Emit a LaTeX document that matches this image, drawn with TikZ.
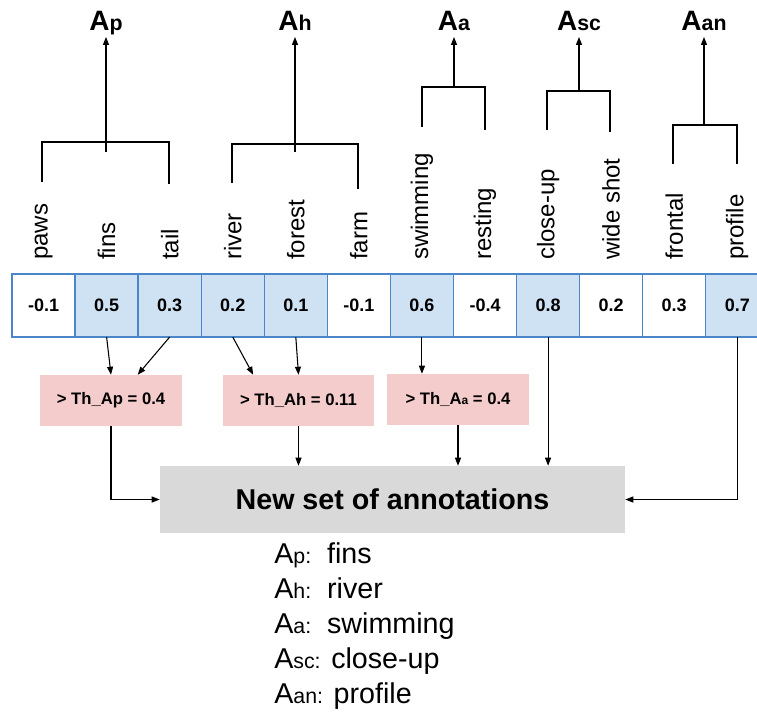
\documentclass[tikz,border=0pt]{standalone}
\usepackage{fontspec}
\setmainfont{Liberation Sans}
\usetikzlibrary{positioning,arrows.meta}
\definecolor{cellline}{HTML}{4A86C8}
\definecolor{cellblue}{HTML}{CFE2F3}
\definecolor{thpink}{HTML}{F4CCCC}
\definecolor{setgray}{HTML}{D9D9D9}
\newcommand{\subtxt}[1]{{\fontsize{16}{18}\selectfont #1}}
\tikzset{
	cell/.style={draw=cellline, line width=1pt, minimum width=47.3pt, minimum height=47.3pt, inner sep=0pt, outer sep=0pt, font=\bfseries\fontsize{13.5}{15}\selectfont},
	hit/.style={cell, fill=cellblue},
	attr/.style={rotate=90, anchor=west, inner sep=0pt, font=\fontsize{18}{20}\selectfont},
	head/.style={anchor=base, inner sep=1pt, text depth=4pt, font=\bfseries\fontsize{21}{24}\selectfont},
	thr/.style={fill=thpink, minimum height=38.25pt, font=\bfseries\fontsize{12.5}{14}\selectfont},
	link/.style={-{Triangle[length=6pt,width=4.5pt]}, line width=0.8pt},
	brk/.style={line width=0.8pt},
	pick/.style={anchor=base west, inner sep=0pt, font=\fontsize{21.5}{24}\selectfont}
}
\begin{document}
\begin{tikzpicture}[x=0.75pt, y=-0.75pt]
	\useasboundingbox (0,0) rectangle (757,711);
	\clip (0,0) rectangle (757,711);
	% score row
	\node[cell] (c1) at (43.55,305.5) {-0.1};
	\node[hit, right=0pt of c1] (c2) {0.5};
	\node[hit, right=0pt of c2] (c3) {0.3};
	\node[hit, right=0pt of c3] (c4) {0.2};
	\node[hit, right=0pt of c4] (c5) {0.1};
	\node[cell, right=0pt of c5] (c6) {-0.1};
	\node[hit, right=0pt of c6] (c7) {0.6};
	\node[cell, right=0pt of c7] (c8) {-0.4};
	\node[hit, right=0pt of c8] (c9) {0.8};
	\node[cell, right=0pt of c9] (c10) {0.2};
	\node[cell, right=0pt of c10] (c11) {0.3};
	\node[hit, right=0pt of c11] (c12) {0.7};
	% attribute words
	\node[attr] (lpaws) at ([yshift=10.5pt]c1.north) {paws};
	\node[attr] (lfins) at ([yshift=10.5pt]c2.north) {fins};
	\node[attr] (ltail) at ([yshift=10.5pt]c3.north) {tail};
	\node[attr] (lriver) at ([yshift=10.5pt]c4.north) {river};
	\node[attr] (lforest) at ([yshift=10.5pt]c5.north) {forest};
	\node[attr] (lfarm) at ([yshift=10.5pt]c6.north) {farm};
	\node[attr] (lswim) at ([yshift=10.5pt]c7.north) {swimming};
	\node[attr] (lrest) at ([yshift=10.5pt]c8.north) {resting};
	\node[attr] (lclose) at ([yshift=10.5pt]c9.north) {close-up};
	\node[attr] (lwide) at ([yshift=10.5pt]c10.north) {wide shot};
	\node[attr] (lfront) at ([yshift=10.5pt]c11.north) {frontal};
	\node[attr] (lprof) at ([yshift=10.5pt]c12.north) {profile};
	% group heads
	\node[head] (Ap) at (106,30) {A\subtxt{p}};
	\node[head] (Ah) at (295,30) {A\subtxt{h}};
	\node[head] (Aa) at (454,30) {A\subtxt{a}};
	\node[head] (Asc) at (579,30) {A\subtxt{sc}};
	\node[head] (Aan) at (704,30) {A\subtxt{an}};
	% brackets
	\draw[brk] (42,182) -- (42,142) -- (169,142) -- (169,184);
	\draw[brk] (232,183) -- (232,144) -- (358,144) -- (358,189);
	\draw[brk] (422,127) -- (422,87) -- (485,87) -- (485,130);
	\draw[brk] (547,130) -- (547,91) -- (610,91) -- (610,132);
	\draw[brk] (673,164) -- (673,125) -- (737,125) -- (737,164);
	\coordinate (bp) at (106,152);
	\coordinate (bh) at (295,152);
	\coordinate (ba) at (454,88);
	\coordinate (bsc) at (579,91);
	\coordinate (ban) at (704,125);
	\draw[link] (bp) -- (Ap);
	\draw[link] (bh) -- (Ah);
	\draw[link] (ba) -- (Aa);
	\draw[link] (bsc) -- (Asc);
	\draw[link] (ban) -- (Aan);
	% thresholds
	\node[thr, minimum width=106.5pt] (thp) at (111,400.5) {> Th\_Ap = 0.4};
	\node[thr, minimum width=113.25pt] (thh) at (298.5,400.5) {> Th\_Ah = 0.11};
	\node[thr, minimum width=106.5pt] (tha) at (458,399.5) {> Th\_A{\fontsize{9}{10}\selectfont a} = 0.4};
	\draw[link] (c2.south) -- (thp.north);
	\draw[link] (c3.south) -- ([xshift=20pt]thp.north);
	\draw[link] (c4.south) -- ([xshift=-34pt]thh.north);
	\draw[link] (c5.south) -- (thh.north);
	\draw[link] (c7.south) -- (c7.south |- tha.north);
	% result
	\node[fill=setgray, minimum width=348.75pt, minimum height=50.25pt, font=\bfseries\fontsize{21.5}{24}\selectfont] (newset) at (392.5,499.5) {New set of annotations};
	\draw[link] (thp.south) |- (newset.west);
	\draw[link] (thh.south) -- (thh.south |- newset.north);
	\draw[link] (tha.south) -- (tha.south |- newset.north);
	\draw[link] (c9.south) -- (c9.south |- newset.north);
	\draw[link] (c12.south) |- (newset.east);
	% chosen words
	\node[pick] (rp) at (274,563) {A\subtxt{p:}\ \ fins};
	\node[pick] (rh) at (274,598) {A\subtxt{h:}\ \ river};
	\node[pick] (ra) at (274,633) {A\subtxt{a:}\ \ swimming};
	\node[pick] (rsc) at (274,668) {A\subtxt{sc:} close-up};
	\node[pick] (ran) at (274,703) {A\subtxt{an:} profile};
\end{tikzpicture}
\end{document}
